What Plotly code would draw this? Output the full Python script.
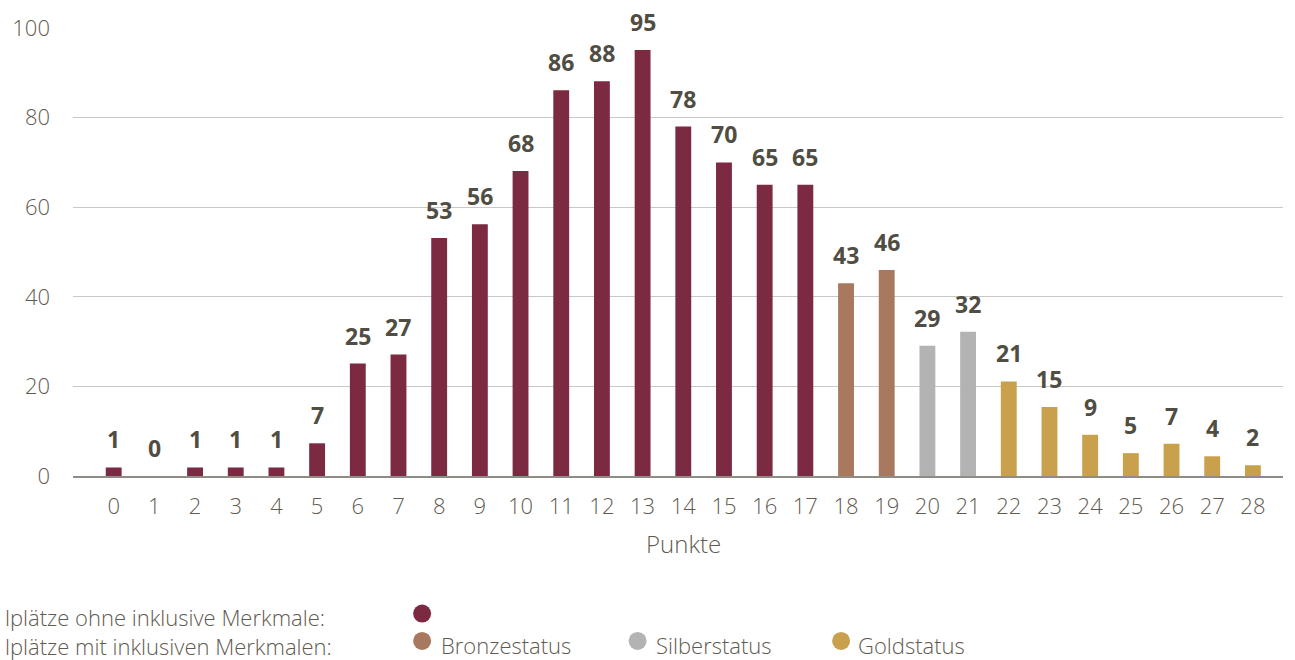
import plotly.graph_objects as go

# Punkte 0..28
punkte = list(range(29))
# bar heights
hoehe = [1.9, 0, 1.9, 1.9, 1.9, 7.3, 25.1, 27.1, 53.1, 56.2, 68.1, 86.1, 88.1, 95.1,
         78.0, 70.0, 65.0, 65.0, 43.0, 46.0, 29.1, 32.2, 21.1, 15.4, 9.2, 5.1, 7.2, 4.4, 2.4]
# printed labels
anzahl = [1, 0, 1, 1, 1, 7, 25, 27, 53, 56, 68, 86, 88, 95, 78, 70, 65, 65,
          43, 46, 29, 32, 21, 15, 9, 5, 7, 4, 2]
status = ['ohne'] * 18 + ['bronze'] * 2 + ['silber'] * 2 + ['gold'] * 7

FARBEN = {
    'ohne': '#7b2a42',
    'bronze': '#a8785f',
    'silber': '#b3b3b3',
    'gold': '#c9a04c',
}
TEXT_GRAU = '#5f5b50'
LABEL_GRAU = '#504d42'
FONT = 'Open Sans'

W, H = 1295, 660
L, R, T, B = 70, 12, 17, 184


def px_x(x):
    return (x - L) / (W - L - R)


def px_y(y):
    return (H - B - y) / (H - B - T)


fig = go.Figure()
fig.add_trace(go.Bar(
    x=punkte,
    y=hoehe,
    marker=dict(color=[FARBEN[s] for s in status], line=dict(width=0)),
    width=0.39,
    hoverinfo='x+y',
    showlegend=False,
))

# value labels
for p, h, n in zip(punkte, hoehe, anzahl):
    fig.add_annotation(
        x=p, y=h, text=str(n), showarrow=False, yanchor='bottom', yshift=10,
        font=dict(family=FONT, size=23, color=LABEL_GRAU, weight='bold'),
    )

# axis title
fig.add_annotation(
    x=px_x(682), y=px_y(545), xref='paper', yref='paper', text='Punkte', showarrow=False,
    yanchor='middle',
    font=dict(family=FONT, size=24, color=TEXT_GRAU, weight=300),
)

# legend (hand made): both row titles in one block, the status names on row 2
legende_font = dict(family=FONT, size=22, color=TEXT_GRAU, weight=300)
fig.add_annotation(
    x=px_x(0), y=px_y(635), xref='paper', yref='paper',
    text='lplätze ohne inklusive Merkmale:<br>lplätze mit inklusiven Merkmalen:',
    showarrow=False, xanchor='left', yanchor='middle', align='left',
    font=legende_font,
)
for txt, x in [('Bronzestatus', 437), ('Silberstatus', 652), ('Goldstatus', 855)]:
    fig.add_annotation(
        x=px_x(x), y=px_y(649), xref='paper', yref='paper', text=txt, showarrow=False,
        xanchor='left', yanchor='middle', font=legende_font,
    )

legende_punkte = [('ohne', 420, 617), ('bronze', 420, 645), ('silber', 636, 645), ('gold', 840, 645)]
for s, x, y in legende_punkte:
    fig.add_shape(
        type='circle', xref='paper', yref='paper',
        xsizemode='pixel', ysizemode='pixel',
        xanchor=px_x(x), yanchor=px_y(y),
        x0=-9, x1=9, y0=-9, y1=9,
        fillcolor=FARBEN[s], line=dict(width=0),
    )

fig.update_layout(
    width=W, height=H,
    margin=dict(l=L, r=R, t=T, b=B, pad=0),
    plot_bgcolor='white', paper_bgcolor='white',
    font=dict(family=FONT, size=22, color=TEXT_GRAU),
    bargap=0.6,
)
fig.update_xaxes(
    range=[-1, 28.74], tickmode='array', tickvals=punkte,
    ticks='', showgrid=False, showline=True, linecolor='#8e8c84', linewidth=2,
    tickfont=dict(family=FONT, size=22, color=TEXT_GRAU, weight=300),
    ticklabelstandoff=10, fixedrange=True,
)
fig.update_yaxes(
    range=[0, 100], tickvals=[0, 20, 40, 60, 80, 100],
    showgrid=True, gridcolor='#c8c8c8', gridwidth=1, zeroline=False,
    showline=False, ticks='',
    tickfont=dict(family=FONT, size=22, color=TEXT_GRAU, weight=300),
    ticklabelstandoff=22, fixedrange=True,
)

# the page body has a default margin; drop it so the figure sits at (0, 0)
fig.write_html('out.html', config={'displayModeBar': False},
               post_script="document.body.style.margin='0';")
